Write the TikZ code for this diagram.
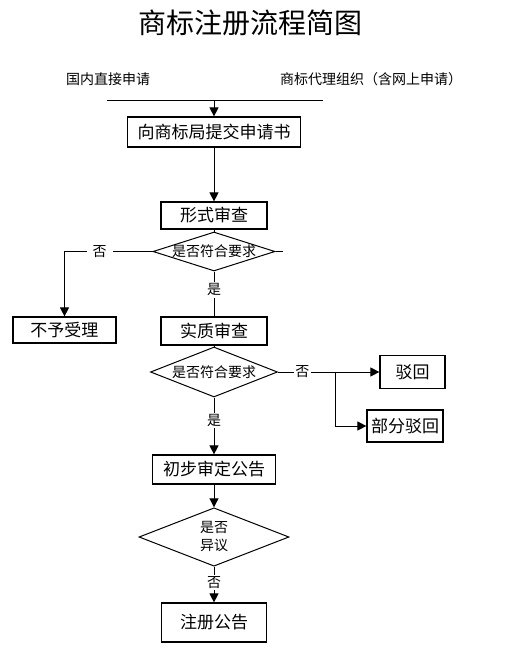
\documentclass[tikz,border=0pt]{standalone}
\usepackage{fontspec}
\setmainfont{Noto Sans CJK SC}
\usetikzlibrary{shapes.geometric,arrows.meta}

\begin{document}
\begin{tikzpicture}[x=1pt, y=-1pt,
    box/.style = {draw, line width=1.2pt, inner sep=0pt, font=\fontsize{17}{19}\selectfont},
    decide/.style = {draw, diamond, line width=1pt, inner sep=0pt, font=\fontsize{14}{18}\selectfont},
    lbl/.style = {fill=white, inner sep=1.5pt, font=\fontsize{14}{16}\selectfont},
    line/.style = {line width=1pt},
    arr/.style = {line width=1pt, -{Triangle[length=9pt, width=9pt]}}]

    \useasboundingbox (0,0) rectangle (529,656);

    % Nodes
    \node[font=\fontsize{28}{30}\selectfont] (title) at (250,23) {商标注册流程简图};
    \node[font=\fontsize{14}{16}\selectfont] (direct) at (108,79) {国内直接申请};
    \node[font=\fontsize{14}{16}\selectfont] (agent) at (371,79) {商标代理组织（含网上申请）};
    \coordinate (in1) at (107,100);
    \coordinate (in2) at (323,100);
    \coordinate (join) at (214,100);
    \node[box, minimum width=173, minimum height=30] (apply) at (214,132) {向商标局提交申请书};
    \node[box, minimum width=106, minimum height=27] (form) at (214,215.5) {形式审查};
    \node[decide, minimum width=122, minimum height=39] (check1) at (214,251.5) {\makebox[0pt]{是否符合要求}};
    \coordinate (stub) at (283,251.5);
    \node[box, minimum width=103, minimum height=26] (refuse) at (64.5,330) {不予受理};
    \node[box, minimum width=106, minimum height=28] (subst) at (214,331) {实质审查};
    \node[decide, minimum width=127, minimum height=50] (check2) at (214,372) {\makebox[0pt]{是否符合要求}};
    \coordinate (branch) at (335,372);
    \node[box, minimum width=65, minimum height=33] (reject) at (412.5,372) {驳回};
    \node[box, minimum width=76, minimum height=32] (partrej) at (405,426) {部分驳回};
    \node[box, minimum width=123, minimum height=29] (prelim) at (214,469.5) {初步审定公告};
    \node[decide, minimum width=150, minimum height=58, align=center] (oppose) at (214,537) {是否\\异议};
    \node[box, minimum width=105, minimum height=39] (register) at (214,622.5) {注册公告};

    % Edges
    \draw[line] (in1) -- (in2);
    \draw[arr] (join) -- (apply);
    \draw[arr] (apply) -- (form);
    \draw[line] (form) -- (check1.north);
    \draw[arr] (check1.west) -| node[lbl, inner xsep=6pt, pos=0.3] {否} (refuse);
    \draw[line] (check1.east) -- (stub);
    \draw[line] (check1.south) -- node[lbl, pos=0.41] {是} (subst);
    \draw[line] (subst) -- (check2.north);
    \draw[arr] (check2.east) -- node[lbl, pos=0.24] {否} (reject);
    \draw[arr] (branch) |- (partrej);
    \draw[arr] (check2.south) -- node[lbl, pos=0.4] {是} (prelim);
    \draw[arr] (prelim) -- (oppose.north);
    \draw[arr] (oppose.south) -- node[lbl, pos=0.45] {否} (register);

\end{tikzpicture}
\end{document}
